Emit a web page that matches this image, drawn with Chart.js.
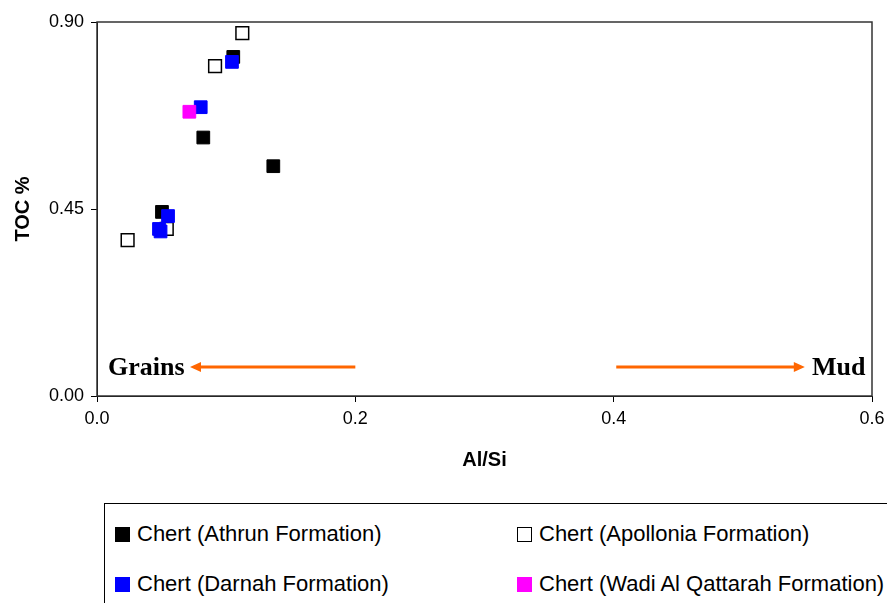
<!DOCTYPE html>
<html>
<head>
<meta charset="utf-8">
<script src="https://cdn.jsdelivr.net/npm/chart.js@4.4.0/dist/chart.umd.min.js"></script>
<style>
  html, body { margin: 0; padding: 0; background: #fff; overflow: hidden; }
  #wrap { position: relative; width: 887px; height: 480px; }
  #legend {
    position: absolute; left: 104px; top: 503px; width: 820px; height: 120px;
    border: 1px solid #000; box-sizing: border-box;
    font-family: "Liberation Sans", Arial, sans-serif; font-size: 22px; line-height: 26px; color: #000;
  }
  .item { position: absolute; display: flex; align-items: center; white-space: nowrap; }
  .swatch { width: 15px; height: 15px; box-sizing: border-box; margin-right: 7px; }
</style>
</head>
<body>
<div id="wrap"><canvas id="chart"></canvas></div>
<div id="legend"></div>
<script>
// Nilai (Al/Si vs TOC %)
const athrunX = [0.1055, 0.0823, 0.1365, 0.0503];
const athrunY = [0.816, 0.622, 0.553, 0.443];

const apolloniaX = [0.1125, 0.0914, 0.0237, 0.0540];
const apolloniaY = [0.873, 0.794, 0.375, 0.402];

const darnahX = [0.1045, 0.0803, 0.0550, 0.0480, 0.0492];
const darnahY = [0.804, 0.695, 0.433, 0.402, 0.396];

const wadiX = [0.0715];
const wadiY = [0.684];

const xTicks = [0, 0.2, 0.4, 0.6];
const yTicks = [0, 0.45, 0.9];

// Anotasi panah "Grains" dan "Mud"
const arrowLevel = 0.07;
const grainsArrow = [0.2, 0.072];
const mudArrow = [0.402, 0.548];
const grainsLabelX = 0.0085;
const mudLabelX = 0.5535;

const toPoints = (xs, ys) => xs.map((x, i) => ({ x: x, y: ys[i] }));

const datasets = [
  { label: 'Chert (Athrun Formation)', data: toPoints(athrunX, athrunY),
    backgroundColor: '#000', borderColor: '#000', borderWidth: 1, order: 4 },
  { label: 'Chert (Apollonia Formation)', data: toPoints(apolloniaX, apolloniaY),
    backgroundColor: '#fff', borderColor: '#000', borderWidth: 1.5, order: 3 },
  { label: 'Chert (Darnah Formation)', data: toPoints(darnahX, darnahY),
    backgroundColor: '#0000ff', borderColor: '#0000ff', borderWidth: 1, order: 2 },
  { label: 'Chert (Wadi Al Qattarah Formation)', data: toPoints(wadiX, wadiY),
    backgroundColor: '#ff00ff', borderColor: '#ff00ff', borderWidth: 1, order: 1 }
];
datasets.forEach(d => { d.pointStyle = 'rect'; d.pointRadius = 9; d.pointHoverRadius = 9; });

// Kotak area plot + panah
const annotations = {
  id: 'annotations',
  afterDatasetsDraw(chart) {
    const { ctx, chartArea: a, scales: { x, y } } = chart;
    ctx.save();
    ctx.strokeStyle = '#333';
    ctx.lineWidth = 1.5;
    ctx.strokeRect(a.left, a.top, a.right - a.left, a.bottom - a.top);

    const py = y.getPixelForValue(arrowLevel);
    const arrow = (from, to) => {
      const x1 = x.getPixelForValue(from), x2 = x.getPixelForValue(to);
      const dir = Math.sign(x2 - x1);
      ctx.strokeStyle = '#ff6600';
      ctx.fillStyle = '#ff6600';
      ctx.lineWidth = 3;
      ctx.beginPath();
      ctx.moveTo(x1, py);
      ctx.lineTo(x2 - dir * 10, py);
      ctx.stroke();
      ctx.beginPath();
      ctx.moveTo(x2, py);
      ctx.lineTo(x2 - dir * 11, py - 5);
      ctx.lineTo(x2 - dir * 11, py + 5);
      ctx.closePath();
      ctx.fill();
    };
    arrow(grainsArrow[0], grainsArrow[1]);
    arrow(mudArrow[0], mudArrow[1]);

    ctx.fillStyle = '#000';
    ctx.font = 'bold 26px "Liberation Serif", "Times New Roman", serif';
    ctx.textBaseline = 'middle';
    ctx.textAlign = 'left';
    ctx.fillText('Grains', x.getPixelForValue(grainsLabelX), py + 1);
    ctx.fillText('Mud', x.getPixelForValue(mudLabelX), py + 1);
    ctx.restore();
  }
};

const tickFont = { family: '"Liberation Sans", Arial, sans-serif', size: 18 };
const titleFont = { family: '"Liberation Sans", Arial, sans-serif', size: 20, weight: 'bold' };

const chart = new Chart(document.getElementById('chart'), {
  type: 'scatter',
  data: { datasets: datasets },
  options: {
    responsive: true,
    maintainAspectRatio: false,
    animation: false,
    layout: { padding: { top: 22, right: 15, left: 0, bottom: 0 } },
    plugins: { legend: { display: false }, tooltip: { enabled: false } },
    scales: {
      x: {
        min: 0, max: 0.6,
        afterBuildTicks: s => { s.ticks = xTicks.map(v => ({ value: v })); },
        afterFit: s => { s.height = 84; s.paddingLeft = 0; s.paddingRight = 0; },
        ticks: { color: '#000', font: tickFont, padding: 6, callback: v => v.toFixed(1) },
        grid: { drawOnChartArea: false, tickColor: '#000', tickLength: 6 },
        border: { color: '#000', width: 1 },
        title: { display: true, text: 'Al/Si', color: '#000', font: titleFont, padding: { top: 0, bottom: 8 } }
      },
      y: {
        min: 0, max: 0.9,
        afterBuildTicks: s => { s.ticks = yTicks.map(v => ({ value: v })); },
        afterFit: s => { s.width = 97; },
        ticks: { color: '#000', font: tickFont, padding: 7, callback: v => v.toFixed(2) },
        grid: { drawOnChartArea: false, tickColor: '#000', tickLength: 6 },
        border: { color: '#000', width: 1 },
        title: { display: true, text: 'TOC %', color: '#000', font: titleFont, padding: { top: 11, bottom: 0 } }
      }
    }
  },
  plugins: [annotations]
});

// Legenda HTML dua kolom
const legendPos = [[10, 17], [412, 17], [10, 67], [412, 67]];
const legend = document.getElementById('legend');
chart.data.datasets.forEach((d, i) => {
  const item = document.createElement('div');
  item.className = 'item';
  item.style.left = legendPos[i][0] + 'px';
  item.style.top = legendPos[i][1] + 'px';
  const sw = document.createElement('span');
  sw.className = 'swatch';
  sw.style.background = d.backgroundColor;
  sw.style.border = '1px solid ' + d.borderColor;
  item.appendChild(sw);
  item.appendChild(document.createTextNode(d.label));
  legend.appendChild(item);
});
</script>
</body>
</html>
